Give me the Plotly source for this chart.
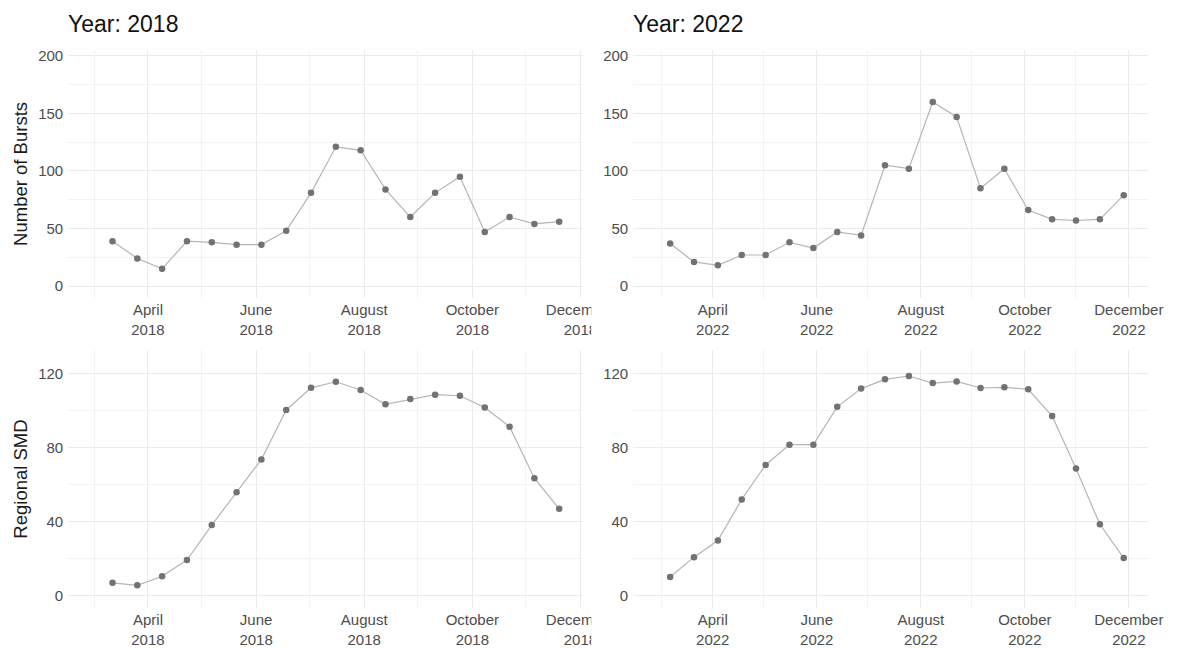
import plotly.graph_objects as go
from plotly.subplots import make_subplots

# ---------------- data ----------------
dates_2018 = ["2018-03-12", "2018-03-26", "2018-04-09", "2018-04-23", "2018-05-07",
              "2018-05-21", "2018-06-04", "2018-06-18", "2018-07-02", "2018-07-16",
              "2018-07-30", "2018-08-13", "2018-08-27", "2018-09-10", "2018-09-24",
              "2018-10-08", "2018-10-22", "2018-11-05", "2018-11-19"]
bursts_2018 = [39, 24, 15, 39, 38, 36, 36, 48, 81, 121, 118, 84, 60, 81, 95, 47, 60, 54, 56]
smd_2018 = [6.8, 5.4, 10.3, 19.1, 38.1, 55.9, 73.7, 100.5, 112.5, 115.8,
            111.3, 103.6, 106.4, 108.8, 108.2, 101.8, 91.4, 63.5, 46.9]

dates_2022 = ["2022-03-07", "2022-03-21", "2022-04-04", "2022-04-18", "2022-05-02",
              "2022-05-16", "2022-05-30", "2022-06-13", "2022-06-27", "2022-07-11",
              "2022-07-25", "2022-08-08", "2022-08-22", "2022-09-05", "2022-09-19",
              "2022-10-03", "2022-10-17", "2022-10-31", "2022-11-14", "2022-11-28"]
bursts_2022 = [37, 21, 18, 27, 27, 38, 33, 47, 44, 105, 102, 160, 147, 85, 102, 66, 58, 57, 58, 79]
smd_2022 = [9.9, 20.7, 29.7, 52.0, 70.7, 81.7, 81.7, 102.2, 112.1, 117.1,
            118.9, 115.1, 116.0, 112.4, 112.8, 111.7, 97.2, 68.7, 38.5, 20.2]

years = ["2018", "2022"]
month_ticks = ["04-01", "06-01", "08-01", "10-01", "12-01"]
month_names = ["April", "June", "August", "October", "December"]
month_minor = ["03-02", "05-01", "07-01", "08-31", "10-31"]

bursts_ticks = [0, 50, 100, 150, 200]
bursts_minor = [25, 75, 125, 175]
smd_ticks = [0, 40, 80, 120]
smd_minor = [20, 60, 100]

y_title_top = "Number of Bursts"
y_title_bottom = "Regional SMD"

# ---------------- layout constants ----------------
W, H = 1197, 648
FONT = "Liberation Sans, Arial, sans-serif"
LINE_C = "#b5b5b5"
PT_C = "#727272"
GRID_C = "#ebebeb"
MINOR_C = "#f3f3f3"
TICK_C = "#4d4d4d"

col_px = [(70, 599), (650, 1179)]
row_px = [(48, 298), (350, 610)]
x_ranges = [["2018-02-15", "2018-12-02 17:00"], ["2022-02-13 08:00", "2022-12-12 12:00"]]
y_ranges = [[-10.5, 205.4], [-7.0, 133.1]]

fig = make_subplots(rows=2, cols=2)

series = {
    (0, 0): (dates_2018, bursts_2018),
    (0, 1): (dates_2022, bursts_2022),
    (1, 0): (dates_2018, smd_2018),
    (1, 1): (dates_2022, smd_2022),
}

for (r, c), (xs, ys) in series.items():
    fig.add_trace(
        go.Scatter(x=xs, y=ys, mode="lines+markers",
                   line=dict(color=LINE_C, width=1.2),
                   marker=dict(color=PT_C, size=6.5),
                   showlegend=False, hoverinfo="skip"),
        row=r + 1, col=c + 1)

for r in range(2):
    for c in range(2):
        idx = r * 2 + c + 1
        xa = "xaxis" if idx == 1 else f"xaxis{idx}"
        ya = "yaxis" if idx == 1 else f"yaxis{idx}"
        yr = years[c]
        x0, x1 = col_px[c]
        top, bot = row_px[r]
        fig.layout[xa].update(
            domain=[x0 / W, x1 / W],
            range=x_ranges[c],
            type="date",
            tickmode="array",
            tickvals=[f"{yr}-{m}" for m in month_ticks],
            ticktext=[f"{n}<br>{yr}" for n in month_names],
            showgrid=True, gridcolor=GRID_C, gridwidth=1.3,
            minor=dict(tickmode="array", tickvals=[f"{yr}-{m}" for m in month_minor],
                       showgrid=True, gridcolor=MINOR_C, gridwidth=0.9),
            zeroline=False, showline=False, ticks="",
            tickfont=dict(family=FONT, size=15, color=TICK_C),
            ticklabelstandoff=1,
        )
        if r == 0:
            tv, mv = bursts_ticks, bursts_minor
        else:
            tv, mv = smd_ticks, smd_minor
        fig.layout[ya].update(
            domain=[1 - bot / H, 1 - top / H],
            range=y_ranges[r],
            tickmode="array", tickvals=tv,
            showgrid=True, gridcolor=GRID_C, gridwidth=1.3,
            minor=dict(tickmode="array", tickvals=mv,
                       showgrid=True, gridcolor=MINOR_C, gridwidth=0.9),
            zeroline=False, showline=False, ticks="",
            tickfont=dict(family=FONT, size=15, color=TICK_C),
            ticklabelstandoff=4,
        )
        if c == 0:
            fig.layout[ya].title = dict(
                text=y_title_top if r == 0 else y_title_bottom,
                font=dict(family=FONT, size=18.5, color="#1a1a1a"),
                standoff=5)

annotations = []
for c in range(2):
    annotations.append(dict(
        text=f"Year: {years[c]}", xref="paper", yref="paper",
        x=(col_px[c][0] - 2) / W, y=1 - 22 / H,
        xanchor="left", yanchor="middle", showarrow=False,
        font=dict(family=FONT, size=23, color="#111111")))

# white panels mimicking the clipping of the left plot's last month label
shapes = []
for (t, b) in [(300, 344), (612, 648)]:
    shapes.append(dict(type="rect", xref="paper", yref="paper", layer="above",
                       x0=607 / W, x1=648 / W, y0=1 - b / H, y1=1 - t / H,
                       fillcolor="white", line=dict(width=0)))

fig.update_layout(
    width=W, height=H,
    margin=dict(l=0, r=0, t=0, b=0),
    paper_bgcolor="white", plot_bgcolor="white",
    annotations=annotations,
    shapes=shapes,
    font=dict(family=FONT),
)

fig.write_html("out.html", config={"displayModeBar": False})
